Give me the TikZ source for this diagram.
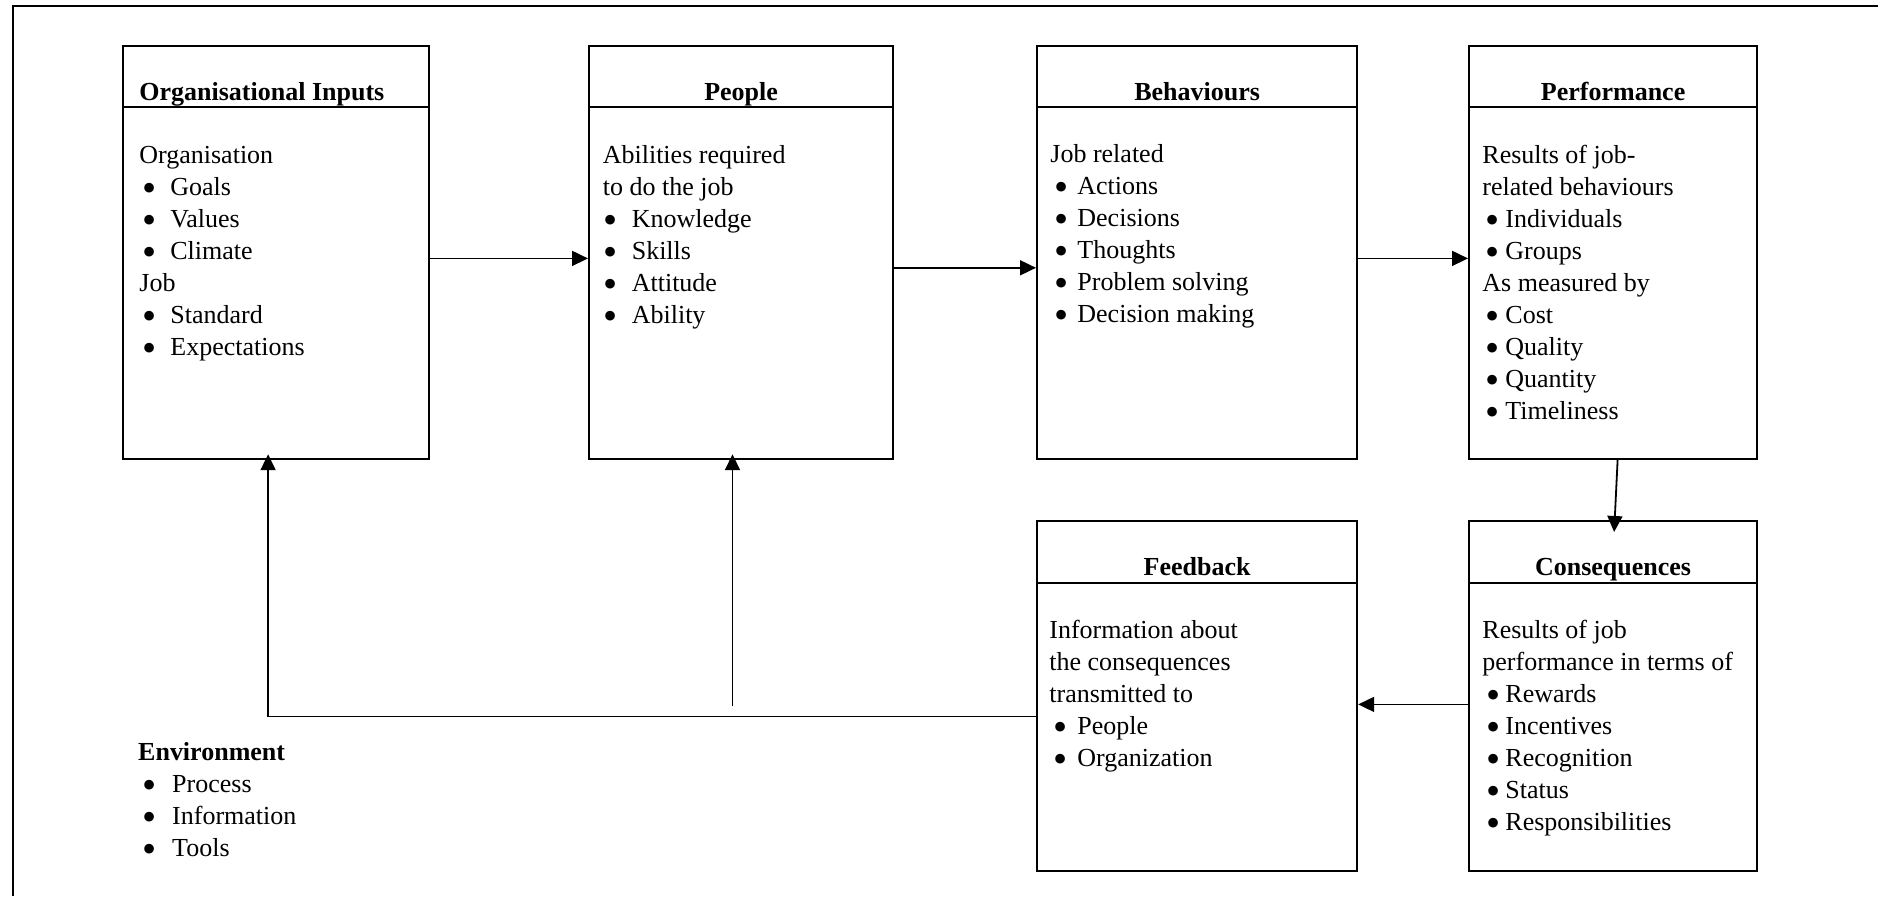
\documentclass[tikz,border=0pt]{standalone}
\usepackage{fontspec}
\setmainfont{Liberation Serif}
\usepackage{graphicx}
\usetikzlibrary{arrows.meta}

% bullet lists inside the panels
\newlength\bulx
\newlength\txtx
\newcommand\dotmark{\smash{\raisebox{-2.9pt}{\scalebox{1.55}{\textbullet}}}}
\newcommand\itm[1]{\makebox[\txtx][l]{\hspace*{\bulx}\dotmark}#1}
\newcommand\indents[2]{\setlength\bulx{#1}\setlength\txtx{#2}}

\begin{document}
\begin{tikzpicture}[x=0.5pt,y=-0.5pt,
  panel/.style={draw, line width=1.1pt, rectangle, inner sep=0pt, anchor=north west},
  headtxt/.style={font=\fontsize{13pt}{16pt}\selectfont\bfseries, inner sep=0pt, anchor=base},
  bodytxt/.style={font=\fontsize{13pt}{16pt}\selectfont, inner sep=0pt, anchor=base west},
  conn/.style={line width=0.9pt, -{Triangle[length=8pt,width=7.5pt]}},
  rule/.style={line width=1.1pt}]
\useasboundingbox (0,0) rectangle (1885,896);

% page frame (top and left edges)
\draw[line width=1pt] (1878,6) -- (12.7,6) -- (12.7,896);

% top row panels
\node[panel, minimum width=153pt, minimum height=206.5pt] (inp)  at (122,45) {};
\node[panel, minimum width=152pt, minimum height=206.5pt] (ppl)  at (588,45) {};
\node[panel, minimum width=160pt, minimum height=206.5pt] (beh)  at (1036,45) {};
\node[panel, minimum width=144pt, minimum height=206.5pt] (perf) at (1468,45) {};
% bottom row panels
\node[panel, minimum width=160pt, minimum height=175pt] (fb)   at (1036,520) {};
\node[panel, minimum width=144pt, minimum height=175pt] (cons) at (1468,520) {};

% header dividers
\foreach \p in {inp,ppl,beh,perf}
  \draw[rule] ([yshift=-31pt]\p.north west) -- ([yshift=-31pt]\p.north east);
\foreach \p in {fb,cons}
  \draw[rule] ([yshift=-31.5pt]\p.north west) -- ([yshift=-31.5pt]\p.north east);

% headers
\node[headtxt, anchor=base west] (inpT) at (139,100) {Organisational Inputs};
\node[headtxt] (pplT)  at ([yshift=-27.5pt]ppl.north)  {People};
\node[headtxt] (behT)  at ([yshift=-27.5pt]beh.north)  {Behaviours};
\node[headtxt] (perfT) at ([yshift=-27.5pt]perf.north) {Performance};
\node[headtxt] (fbT)   at ([yshift=-27.5pt]fb.north)   {Feedback};
\node[headtxt] (consT) at ([yshift=-27.5pt]cons.north) {Consequences};

% panel contents
\node[bodytxt] (inpB) at (139,163.3) {\indents{1.5pt}{15.5pt}%
  \begin{tabular}[t]{@{}l@{}}Organisation\\ \itm{Goals}\\ \itm{Values}\\ \itm{Climate}\\
  Job\\ \itm{Standard}\\ \itm{Expectations}\end{tabular}};
\node[bodytxt] (pplB) at (602.4,163.3) {\indents{0.3pt}{14.5pt}%
  \begin{tabular}[t]{@{}l@{}}Abilities required\\ to do the job\\ \itm{Knowledge}\\
  \itm{Skills}\\ \itm{Attitude}\\ \itm{Ability}\end{tabular}};
\node[bodytxt] (behB) at (1050,162.5) {\indents{1.8pt}{13.5pt}%
  \begin{tabular}[t]{@{}l@{}}Job related\\ \itm{Actions}\\ \itm{Decisions}\\ \itm{Thoughts}\\
  \itm{Problem solving}\\ \itm{Decision making}\end{tabular}};
\node[bodytxt] (perfB) at (1482,163.3) {\indents{1.6pt}{11.5pt}%
  \begin{tabular}[t]{@{}l@{}}Results of job-\\ related behaviours\\ \itm{Individuals}\\
  \itm{Groups}\\ As measured by\\ \itm{Cost}\\ \itm{Quality}\\ \itm{Quantity}\\
  \itm{Timeliness}\end{tabular}};
\node[bodytxt] (fbB) at (1049,638.3) {\indents{2pt}{14pt}%
  \begin{tabular}[t]{@{}l@{}}Information about\\ the consequences\\ transmitted to\\
  \itm{People}\\ \itm{Organization}\end{tabular}};
\node[bodytxt] (consB) at (1482,638.3) {\indents{2pt}{11.5pt}%
  \begin{tabular}[t]{@{}l@{}}Results of job\\ performance in terms of\\ \itm{Rewards}\\
  \itm{Incentives}\\ \itm{Recognition}\\ \itm{Status}\\ \itm{Responsibilities}\end{tabular}};
\node[bodytxt] (env) at (137.8,760.7) {\indents{2pt}{17pt}%
  \begin{tabular}[t]{@{}l@{}}\textbf{Environment}\\ \itm{Process}\\ \itm{Information}\\
  \itm{Tools}\end{tabular}};

% flow connectors
\draw[conn] ([yshift=-2.9pt]inp.east) -- ([yshift=-2.9pt]ppl.west);
\draw[conn] ([yshift=-7.6pt]ppl.east) -- ([yshift=-7.6pt]beh.west);
\draw[conn] ([yshift=-2.9pt]beh.east) -- ([yshift=-2.9pt]perf.west);
\draw[conn, shorten >=-6pt] ([xshift=2.25pt]perf.south) -- ([xshift=0.8pt]cons.north);
\draw[conn] ([yshift=-4.15pt]cons.west) -- ([yshift=-4.15pt]fb.east);
\draw[conn, shorten >=-3pt] ([yshift=-10.15pt]fb.west) -| ([xshift=-4pt]inp.south);
\coordinate (tapB) at (732.5,706);
\draw[conn, shorten >=-3pt] (tapB) -- (tapB |- ppl.south);
\end{tikzpicture}
\end{document}
